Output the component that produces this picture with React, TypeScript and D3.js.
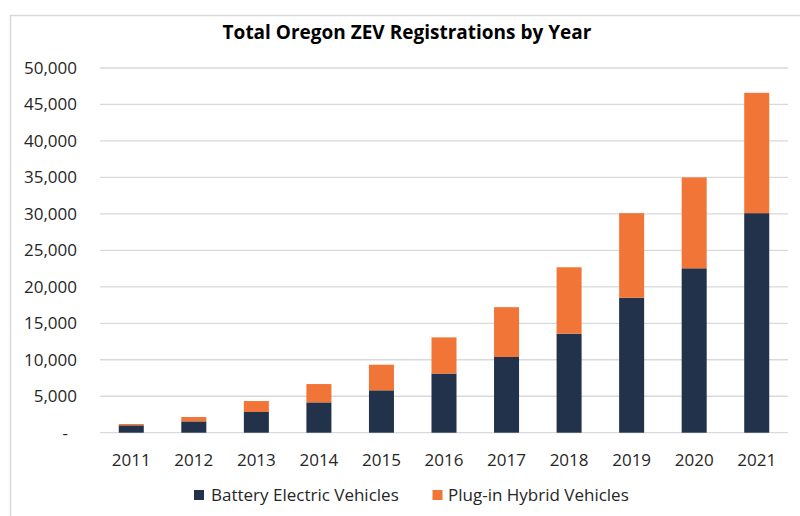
import React from "react";
import * as d3 from "d3";

const years = ["2011","2012","2013","2014","2015","2016","2017","2018","2019","2020","2021"];
const bev = [1010, 1550, 2840, 4160, 5810, 8110, 10380, 13580, 18500, 22540, 30100];
const phev = [180, 600, 1500, 2510, 3510, 4960, 6830, 9100, 11600, 12460, 16500];
const yTicks = [0, 5000, 10000, 15000, 20000, 25000, 30000, 35000, 40000, 45000, 50000];
const seriesNames = ["Battery Electric Vehicles", "Plug-in Hybrid Vehicles"];
const colors = ["#22324A", "#F27538"];

const W = 800, H = 516;
const FONT = "'Open Sans', Lato, sans-serif";

export default function App() {
  const x = d3.scaleBand<string>().domain(years).range([100, 788]).paddingInner(0.6).paddingOuter(0.3);
  const y = d3.scaleLinear().domain([0, 50000]).range([432.7, 68]);
  const rows = years.map((yr, i) => ({ year: yr, bev: bev[i], phev: phev[i] }));
  const stack = d3.stack<any>().keys(["bev", "phev"])(rows);
  const fmt = (v: number) => (v === 0 ? "-" : d3.format(",")(v));

  return (
    <svg width={W} height={H} style={{ position: "absolute", left: 0, top: 0, background: "#fff" }} fontFamily={FONT}>
      <rect x={10.5} y={15.5} width={800} height={520} fill="#fff" stroke="#D9D9D9" strokeWidth={1.5} />
      <text x={407} y={39} textAnchor="middle" fontSize={19} fontWeight="bold" fill="#000">
        Total Oregon ZEV Registrations by Year
      </text>
      {yTicks.map((t) => (
        <g key={t}>
          <line x1={100} x2={788} y1={y(t)} y2={y(t)} stroke="#D9D9D9" strokeWidth={1.3} />
          <text x={t === 0 ? 68 : 77} y={y(t)} dy="0.35em" textAnchor="end" fontSize={17} fill="#262626">
            {fmt(t)}
          </text>
        </g>
      ))}
      {stack.map((s, si) => (
        <g key={si} fill={colors[si]}>
          {s.map((d: any) => (
            <rect
              key={d.data.year}
              x={x(d.data.year)}
              width={x.bandwidth()}
              y={y(d[1])}
              height={y(d[0]) - y(d[1])}
            />
          ))}
        </g>
      ))}
      {years.map((yr) => (
        <text key={yr} x={(x(yr) as number) + x.bandwidth() / 2} y={460} dy="0.35em" textAnchor="middle" fontSize={17} fill="#262626">
          {yr}
        </text>
      ))}
      <g>
        <rect x={194} y={490} width={10} height={10} fill={colors[0]} />
        <text x={211} y={495} dy="0.35em" fontSize={17} fill="#262626">{seriesNames[0]}</text>
        <rect x={432.5} y={490} width={10} height={10} fill={colors[1]} />
        <text x={448} y={495} dy="0.35em" fontSize={17} fill="#262626">{seriesNames[1]}</text>
      </g>
    </svg>
  );
}
